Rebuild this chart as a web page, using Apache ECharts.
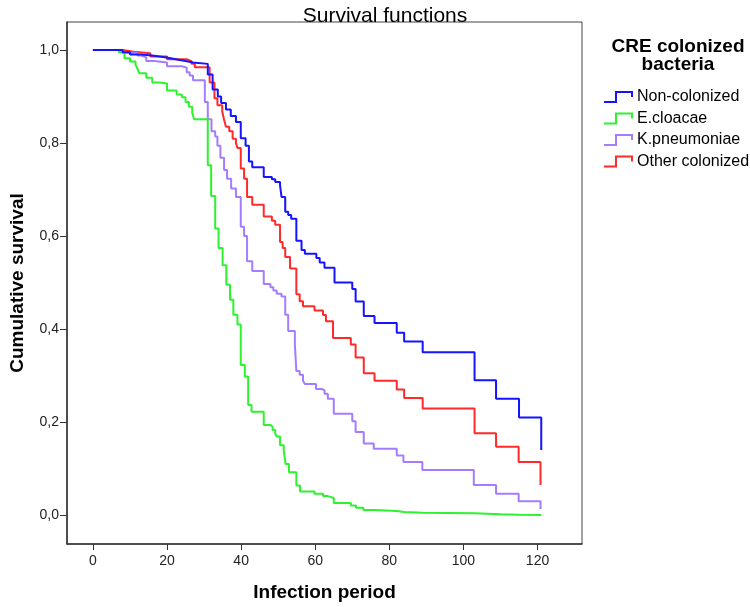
<!DOCTYPE html>
<html>
<head>
<meta charset="utf-8">
<script src="https://cdn.jsdelivr.net/npm/echarts@6/dist/echarts.min.js"></script>
<style>html,body{margin:0;padding:0;background:#fff}#c{width:750px;height:607px}</style>
</head>
<body>
<div id="c"></div>
<script>
// ---- data ----
const xTicks = [0, 20, 40, 60, 80, 100, 120];
const yTicks = [0, 0.2, 0.4, 0.6, 0.8, 1.0];
const groupNames = ['Non-colonized', 'E.cloacae', 'K.pneumoniae', 'Other colonized'];

const nonColTime = [0, 8, 10, 13, 16, 19, 21, 23, 25, 27, 31, 32.3, 33.7, 34.6, 35.9, 37.2, 38.6, 39.9, 41.2, 42.1, 43, 46.1, 48.3, 49.2, 50.5, 50.9, 51.9, 52.7, 53.5, 54.9, 56.3, 57.2, 60.3, 61.2, 62.5, 65.2, 70, 70.9, 73.1, 76, 82, 84, 89, 103, 108.8, 115, 121];
const nonColSurv = [1, 0.995, 0.99, 0.988, 0.985, 0.982, 0.979, 0.976, 0.973, 0.97, 0.947, 0.915, 0.9, 0.886, 0.872, 0.858, 0.845, 0.81, 0.794, 0.76, 0.748, 0.727, 0.722, 0.716, 0.709, 0.684, 0.652, 0.645, 0.637, 0.59, 0.57, 0.562, 0.553, 0.543, 0.532, 0.5, 0.486, 0.459, 0.428, 0.413, 0.392, 0.373, 0.35, 0.29, 0.25, 0.21, 0.14];

const eclTime = [0, 7, 8.5, 10, 11.5, 12, 12.5, 14.4, 16, 18, 20, 22.6, 24, 25, 25.9, 26.8, 27.3, 31, 31.9, 33, 33.9, 35, 36, 37, 37.9, 39, 39.9, 41, 41.9, 42.8, 46.1, 47.9, 48.5, 49.2, 49.6, 50.5, 51.5, 52, 52.9, 54.9, 55.9, 59.8, 62.1, 63.4, 65, 69.6, 71, 73, 76, 82, 84, 89, 103, 110, 115, 121];
const eclSurv = [1, 0.995, 0.982, 0.975, 0.968, 0.96, 0.95, 0.94, 0.93, 0.928, 0.913, 0.904, 0.898, 0.888, 0.878, 0.865, 0.851, 0.752, 0.686, 0.616, 0.574, 0.537, 0.495, 0.463, 0.431, 0.41, 0.323, 0.298, 0.237, 0.222, 0.194, 0.19, 0.183, 0.175, 0.169, 0.15, 0.138, 0.11, 0.092, 0.064, 0.051, 0.046, 0.041, 0.037, 0.026, 0.021, 0.016, 0.011, 0.009, 0.007, 0.005, 0.004, 0.002, 0.001, 0.0005, 0];

const kpnTime = [0, 8, 12, 13, 14.4, 16.6, 20, 24, 25.3, 26.1, 27, 30.2, 31, 32, 33, 33.6, 34.4, 35.4, 36.2, 37.3, 38.6, 39.9, 40.8, 41.6, 43, 46.1, 47.9, 48.7, 49.6, 50.9, 51.9, 52.7, 54.5, 54.9, 55.8, 56.7, 57.2, 60.2, 61.9, 62.5, 63.4, 65, 70, 70.9, 73.1, 75.8, 82, 83.8, 88.9, 102.8, 108.8, 114.9, 120.8];
const kpnSurv = [1, 0.994, 0.988, 0.984, 0.976, 0.973, 0.965, 0.962, 0.952, 0.945, 0.935, 0.888, 0.851, 0.825, 0.814, 0.794, 0.768, 0.742, 0.723, 0.702, 0.684, 0.62, 0.6, 0.546, 0.525, 0.497, 0.49, 0.483, 0.476, 0.47, 0.431, 0.396, 0.367, 0.31, 0.302, 0.289, 0.282, 0.271, 0.268, 0.261, 0.25, 0.218, 0.202, 0.179, 0.154, 0.143, 0.128, 0.114, 0.097, 0.065, 0.046, 0.03, 0.013];

const othTime = [0, 8, 11, 15.5, 20, 25.3, 26.6, 27.5, 31.5, 32.8, 33.6, 34.9, 35.4, 35.9, 36.8, 37.7, 38.6, 39, 39.9, 40.8, 41.6, 43, 46.1, 48.3, 49.2, 50.5, 51.2, 51.9, 53.2, 54.9, 55.8, 56.7, 59.8, 62.1, 62.9, 64.8, 69.6, 70.9, 73.1, 76, 82, 84, 89, 103, 108.8, 114.9, 120.8];
const othSurv = [1, 0.996, 0.993, 0.986, 0.98, 0.976, 0.97, 0.963, 0.93, 0.896, 0.881, 0.867, 0.85, 0.835, 0.825, 0.809, 0.8, 0.789, 0.745, 0.723, 0.684, 0.667, 0.642, 0.633, 0.624, 0.587, 0.574, 0.555, 0.53, 0.475, 0.46, 0.449, 0.44, 0.43, 0.417, 0.381, 0.367, 0.339, 0.305, 0.289, 0.27, 0.252, 0.229, 0.176, 0.147, 0.114, 0.065];

// ---- chart ----
const seriesTimes = [nonColTime, eclTime, kpnTime, othTime];
const seriesSurv = [nonColSurv, eclSurv, kpnSurv, othSurv];
const colors = ['#1414ff', '#2ef22e', '#a47cff', '#ff2a2a'];
const FONT = '"Liberation Sans", Arial, sans-serif';

const chart = echarts.init(document.getElementById('c'), null, { renderer: 'canvas' });

const series = groupNames.map((name, i) => ({
  name: name,
  type: 'line',
  step: 'end',
  showSymbol: false,
  symbol: 'none',
  lineStyle: { color: colors[i], width: 2 },
  itemStyle: { color: colors[i] },
  data: seriesTimes[i].map((t, j) => [t, seriesSurv[i][j]]),
  z: 10 - i
}));

const stepIcon = 'path://M0,10 L12,10 L12,0 L28,0 L28,5';

chart.setOption({
  animation: false,
  backgroundColor: '#fff',
  title: [
    {
      text: 'Survival functions',
      left: 380, top: 1, textAlign: 'center',
      textStyle: { fontFamily: FONT, fontSize: 21, fontWeight: 'normal', color: '#000' }
    },
    {
      text: 'CRE colonized\nbacteria',
      left: 673, top: 33, textAlign: 'center',
      textStyle: { fontFamily: FONT, fontSize: 19, fontWeight: 'bold', color: '#000', lineHeight: 18 }
    }
  ],
  legend: {
    orient: 'vertical',
    left: 598, top: 83,
    itemGap: 3.5,
    itemWidth: 28, itemHeight: 11,
    icon: stepIcon,
    textStyle: { fontFamily: FONT, fontSize: 16, color: '#000', lineHeight: 18 },
    data: groupNames.map((n, i) => ({
      name: n,
      itemStyle: { color: 'transparent', borderColor: colors[i], borderWidth: 2 }
    }))
  },
  grid: {
    left: 59, right: 168, top: 22, bottom: 58,
    show: true, borderColor: '#444', borderWidth: 1, backgroundColor: '#fff'
  },
  xAxis: {
    type: 'value',
    min: -7, max: 132,
    name: 'Infection period',
    nameLocation: 'middle',
    nameGap: 39,
    nameTextStyle: { fontFamily: FONT, fontSize: 19, fontWeight: 'bold', color: '#000' },
    axisLine: { show: true, onZero: false, lineStyle: { color: '#333', width: 1.5 } },
    axisTick: { show: true, length: 6, customValues: xTicks, lineStyle: { color: '#333' } },
    axisLabel: { customValues: xTicks, fontFamily: FONT, fontSize: 14, color: '#222', margin: 10 },
    splitLine: { show: false }
  },
  yAxis: {
    type: 'value',
    min: -0.062, max: 1.06,
    name: 'Cumulative survival',
    nameLocation: 'middle',
    nameGap: 40,
    nameTextStyle: { fontFamily: FONT, fontSize: 19, fontWeight: 'bold', color: '#000' },
    axisLine: { show: true, onZero: false, lineStyle: { color: '#333', width: 1.5 } },
    axisTick: { show: true, length: 7, customValues: yTicks, lineStyle: { color: '#333' } },
    axisLabel: {
      customValues: yTicks, fontFamily: FONT, fontSize: 14, color: '#222', margin: 8,
      formatter: v => v.toFixed(1).replace('.', ',')
    },
    splitLine: { show: false }
  },
  series: series
});
</script>
</body>
</html>
